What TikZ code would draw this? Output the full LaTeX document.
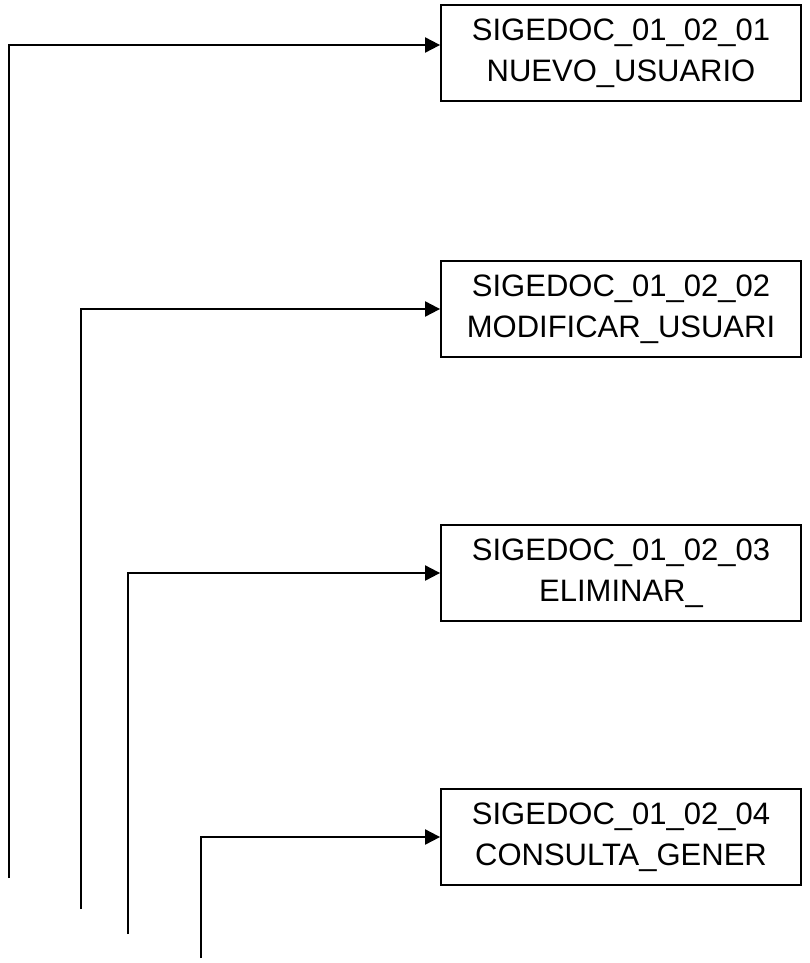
\documentclass[tikz,border=0pt]{standalone}
\usepackage{fontspec}
\setmainfont{Liberation Sans}
\usetikzlibrary{arrows.meta}
\begin{document}
\begin{tikzpicture}[x=1pt,y=-1pt,
  box/.style={draw=black,line width=1.8pt,minimum width=360pt,minimum height=96pt,
    inner sep=0pt,align=center,font=\fontsize{31}{41}\selectfont},
  conn/.style={line width=2pt,-{Triangle[length=15pt,width=15pt]}}]
\useasboundingbox (0,0) rectangle (809,963);
\node[box] (b1) at (621,53) {SIGEDOC\_01\_02\_01\\NUEVO\_USUARIO};
\node[box] (b2) at (621,309) {SIGEDOC\_01\_02\_02\\MODIFICAR\_USUARI};
\node[box] (b3) at (621,573) {SIGEDOC\_01\_02\_03\\ELIMINAR\_};
\node[box] (b4) at (621,837) {SIGEDOC\_01\_02\_04\\CONSULTA\_GENER};
\coordinate (s1) at (9,878);   \coordinate (c1) at (9,45);
\coordinate (s2) at (81,909);  \coordinate (c2) at (81,309);
\coordinate (s3) at (128,934); \coordinate (c3) at (128,573);
\coordinate (s4) at (201,958); \coordinate (c4) at (201,837);
\draw[conn] (s1) -- (c1) -- (c1 -| b1.west);
\draw[conn] (s2) -- (c2) -- (c2 -| b2.west);
\draw[conn] (s3) -- (c3) -- (c3 -| b3.west);
\draw[conn] (s4) -- (c4) -- (c4 -| b4.west);
\end{tikzpicture}
\end{document}
